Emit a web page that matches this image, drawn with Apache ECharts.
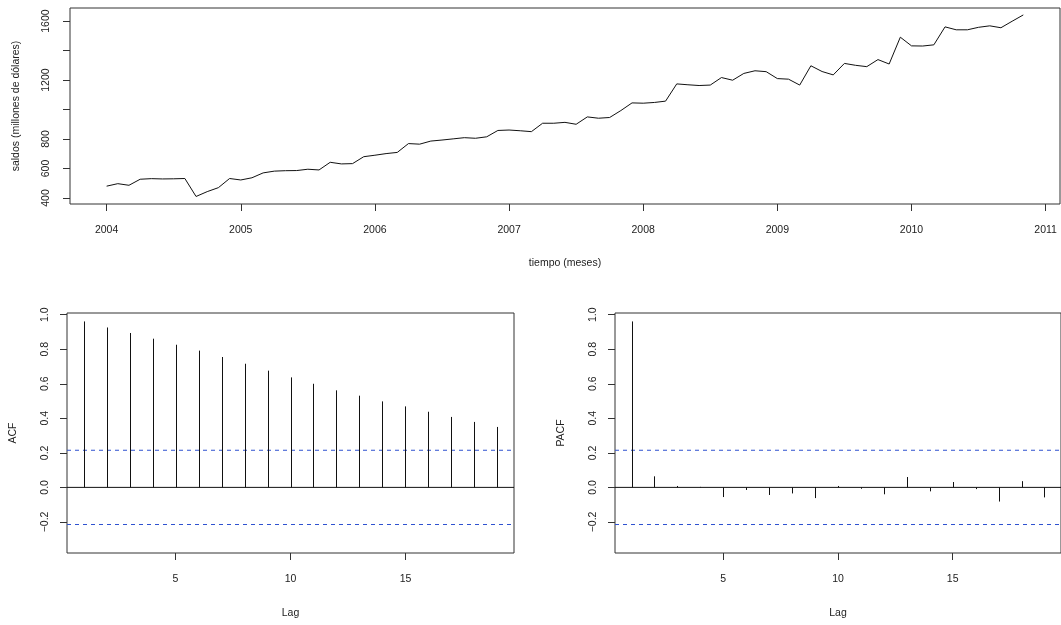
<!DOCTYPE html>
<html>
<head>
<meta charset="utf-8">
<script src="https://cdn.jsdelivr.net/npm/echarts@6/dist/echarts.min.js"></script>
<style>
html,body{margin:0;padding:0;background:#fff;}
#chart{width:1061px;height:625px;}
</style>
</head>
<body>
<div id="chart"></div>
<script>
// ---- data ----
const startYear = 2004;          // monthly series starting Jan 2004
const saldos = [480, 497, 486, 527, 531, 529, 530, 532, 410, 443, 470, 532,
                522, 537, 570, 582, 585, 586, 595, 590, 642, 631, 633, 680,
                690, 701, 709, 769, 765, 786, 793, 801, 809, 805, 815, 858,
                861, 856, 850, 907, 907, 913, 900, 950, 941, 946, 993, 1045,
                1043, 1048, 1057, 1174, 1168, 1163, 1166, 1217, 1199, 1245, 1263, 1257,
                1210, 1206, 1166, 1297, 1258, 1235, 1313, 1300, 1291, 1339, 1309, 1491,
                1432, 1431, 1439, 1561, 1541, 1541, 1558, 1568, 1555, 1599, 1642];
const lags = [1, 2, 3, 4, 5, 6, 7, 8, 9, 10, 11, 12, 13, 14, 15, 16, 17, 18, 19];
const acfValues = [0.961, 0.926, 0.894, 0.861, 0.826, 0.792, 0.755, 0.716, 0.676, 0.637,
                   0.600, 0.562, 0.531, 0.498, 0.469, 0.438, 0.408, 0.379, 0.350];
const pacfValues = [0.961, 0.064, 0.008, 0.003, -0.056, -0.015, -0.044, -0.035, -0.062, 0.008,
                    -0.008, -0.040, 0.060, -0.023, 0.031, -0.010, -0.082, 0.036, -0.058];
const ciLimit = 0.215;
const yearTicks = [2004, 2005, 2006, 2007, 2008, 2009, 2010, 2011];
const saldoTicks = [400, 600, 800, 1000, 1200, 1400, 1600];
const saldoLabels = [400, 600, 800, 1200, 1600];
const lagTicks = [5, 10, 15];
const corrTicks = [-0.2, 0.0, 0.2, 0.4, 0.6, 0.8, 1.0];

// ---- chart ----
const FONT = 'Liberation Sans, Arial, sans-serif';
const TXT = '#222';
const FS = 10.5;
const LAG_MIN = 0.28, LAG_MAX = 19.72;
const chart = echarts.init(document.getElementById('chart'), null, {renderer: 'canvas'});

const tsData = saldos.map((v, i) => [startYear + i / 12, v]);
const acfData = lags.map((l, i) => [l, acfValues[i]]);
const pacfData = lags.map((l, i) => [l, pacfValues[i]]);

function stem(params, api) {
  const x = api.value(0), y = api.value(1);
  const p0 = api.coord([x, 0]);
  const p1 = api.coord([x, y]);
  const px = Math.round(p0[0]) + 0.5;
  return {type: 'line', shape: {x1: px, y1: p0[1], x2: px, y2: p1[1]},
          style: {stroke: '#111', lineWidth: 1}};
}
const gridBase = {show: true, borderColor: '#333', borderWidth: 1, backgroundColor: 'transparent'};
const tick = (vals) => ({show: true, inside: false, length: 7, customValues: vals, lineStyle: {color: '#333', width: 1}});
const plainFmt = v => String(v);
const corrFmt = v => (Math.abs(v) < 1e-9 ? '0.0' : v.toFixed(1).replace('-', '\u2212'));

function corrX(gi) {
  return {type: 'value', gridIndex: gi, min: LAG_MIN, max: LAG_MAX,
    axisLine: {show: false, onZero: false}, splitLine: {show: false},
    axisTick: tick(lagTicks),
    axisLabel: {customValues: lagTicks, margin: 21, color: TXT, fontFamily: FONT, fontSize: FS, formatter: plainFmt},
    name: 'Lag', nameLocation: 'middle', nameGap: 55,
    nameTextStyle: {color: TXT, fontFamily: FONT, fontSize: FS}};
}
function corrY(gi, nm) {
  return {type: 'value', gridIndex: gi, min: -0.38, max: 1.0098,
    axisLine: {show: false, onZero: false}, splitLine: {show: false},
    axisTick: tick(corrTicks),
    axisLabel: {customValues: corrTicks, rotate: 90, margin: 16, color: TXT, fontFamily: FONT, fontSize: FS, formatter: corrFmt},
    name: nm, nameLocation: 'middle', nameGap: 48, nameRotate: 90,
    nameTextStyle: {color: TXT, fontFamily: FONT, fontSize: FS}};
}
function hline(ax, y, color, type) {
  return {type: 'line', xAxisIndex: ax, yAxisIndex: ax, silent: true, showSymbol: false, symbol: 'none',
    data: [[LAG_MIN, y], [LAG_MAX, y]], itemStyle: {color: color},
    lineStyle: {color: color, type: type, width: 1}, z: 1};
}

chart.setOption({
  animation: false,
  backgroundColor: '#fff',
  grid: [
    Object.assign({left: 70, top: 8, width: 990, height: 196}, gridBase),
    Object.assign({left: 67, top: 313, width: 447, height: 240}, gridBase),
    Object.assign({left: 615, top: 313, width: 447, height: 240}, gridBase)
  ],
  xAxis: [
    {type: 'value', gridIndex: 0, min: 2003.727, max: 2011.107,
      axisLine: {show: false, onZero: false}, splitLine: {show: false},
      axisTick: tick(yearTicks),
      axisLabel: {customValues: yearTicks, margin: 21, color: TXT, fontFamily: FONT, fontSize: FS, formatter: plainFmt},
      name: 'tiempo (meses)', nameLocation: 'middle', nameGap: 54,
      nameTextStyle: {color: TXT, fontFamily: FONT, fontSize: FS}},
    corrX(1), corrX(2)
  ],
  yAxis: [
    {type: 'value', gridIndex: 0, min: 359, max: 1689,
      axisLine: {show: false, onZero: false}, splitLine: {show: false},
      axisTick: tick(saldoTicks),
      axisLabel: {customValues: saldoLabels, rotate: 90, margin: 18, color: TXT, fontFamily: FONT, fontSize: FS, formatter: plainFmt},
      name: 'saldos (millones de dólares)', nameLocation: 'middle', nameGap: 48, nameRotate: 90,
      nameTextStyle: {color: TXT, fontFamily: FONT, fontSize: FS}},
    corrY(1, 'ACF'), corrY(2, 'PACF')
  ],
  series: [
    {type: 'line', xAxisIndex: 0, yAxisIndex: 0, data: tsData, showSymbol: false,
      lineStyle: {color: '#111', width: 1}, silent: true},
    hline(1, 0, '#111', 'solid'),
    hline(1, ciLimit, '#2f52d0', [4, 4]),
    hline(1, -ciLimit, '#2f52d0', [4, 4]),
    {type: 'custom', xAxisIndex: 1, yAxisIndex: 1, data: acfData, renderItem: stem, silent: true, z: 3},
    hline(2, 0, '#111', 'solid'),
    hline(2, ciLimit, '#2f52d0', [4, 4]),
    hline(2, -ciLimit, '#2f52d0', [4, 4]),
    {type: 'custom', xAxisIndex: 2, yAxisIndex: 2, data: pacfData, renderItem: stem, silent: true, z: 3}
  ]
});
</script>
</body>
</html>
